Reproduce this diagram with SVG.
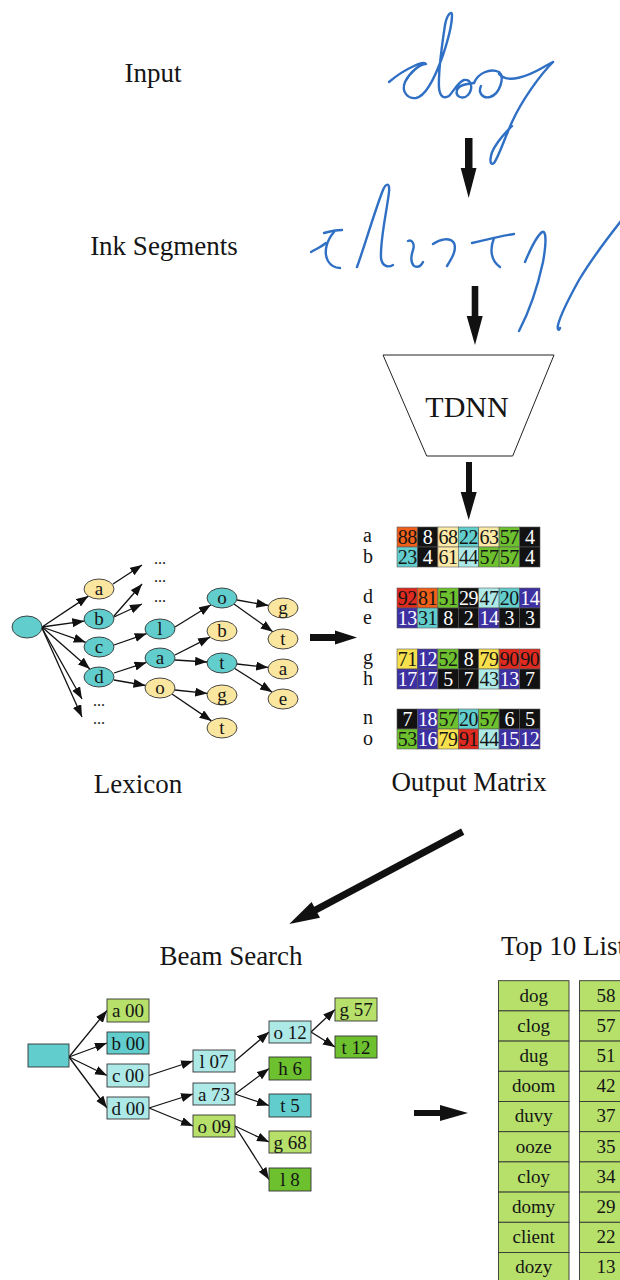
<svg xmlns="http://www.w3.org/2000/svg" width="620" height="1280" viewBox="0 0 620 1280">
  <style>
    text { font-family: "Liberation Serif", "Times New Roman", serif; fill: #151515; }
    .lbl { font-size: 27px; }
    .ntx { font-size: 19px; text-anchor: middle; }
    .mtx { font-size: 20px; text-anchor: middle; letter-spacing: -0.5px; }
    .rl { font-size: 20px; }
    .dots { font-size: 16px; text-anchor: middle; fill: #222; }
    .w { fill: #ffffff; }
    .ink { fill: none; stroke: #2f6fc4; stroke-width: 2.4; stroke-linecap: round; stroke-linejoin: round; }
    .big { fill: #111; }
    .edge { fill: none; stroke: #111; stroke-width: 1.3; marker-end: url(#ah); }
    .ell { stroke: #333; stroke-width: 0.9; }
    .box { stroke: #333; stroke-width: 0.9; }
    .cell { stroke: #5a5a5a; stroke-width: 0.6; }
    .cy { fill: #62cdcd; }
    .ye { fill: #fbe6a0; }
    .lc { fill: #ade9e7; }
    .lg { fill: #b6e06a; }
    .gr { fill: #6dc02e; }
    .k { fill: #121212; }
    .or { fill: #ef5f1a; }
    .rd { fill: #df2a20; }
    .yl { fill: #f6e04c; }
    .ly { fill: #fde9a6; }
    .bl { fill: #3c30a2; }
  </style>
  <defs>
    <marker id="ah" markerUnits="userSpaceOnUse" markerWidth="13" markerHeight="10" refX="12" refY="4.5" orient="auto">
      <path d="M0,0 L12,4.5 L0,9 z" fill="#111"/>
    </marker>
  </defs>

  <rect width="620" height="1280" fill="#ffffff"/>

  <!-- stage captions -->
  <g id="captions">
    <text class="lbl" x="153" y="82" text-anchor="middle">Input</text>
    <text class="lbl" x="164" y="255" text-anchor="middle">Ink Segments</text>
    <text class="lbl" x="138" y="793" text-anchor="middle">Lexicon</text>
    <text class="lbl" x="469" y="791" text-anchor="middle">Output Matrix</text>
    <text class="lbl" x="231" y="965" text-anchor="middle">Beam Search</text>
    <text class="lbl" x="501" y="955">Top 10 List</text>
  </g>

  <!-- handwritten word -->
  <g id="input-ink">
    <path class="ink" d="M389,82 C396,76 405,70 414,66 C420,63 425,62 426,64 C420,64 410,72 405,82 C401,92 408,99 416,98 C426,96 436,75 443,55 C448,40 452,25 452,15 C452,10 447,14 445,25 C442,45 438,70 439,88 C440,97 444,99 449,96 C453,92 458,82 464,80 C471,79 474,88 468,95 C463,100 455,97 457,90 C459,85 466,84 474,83"/>
    <path class="ink" d="M474,83 C478,73 490,68 499,72 C505,77 500,94 490,97 C482,99 478,92 481,86"/>
    <path class="ink" d="M499,74 C508,84 528,76 542,68 C547,65 551,63 553,62"/>
    <path class="ink" d="M553,62 C540,75 522,100 512,122 C504,140 498,158 494,163 C489,167 489,155 496,145 C501,137 507,131 512,126"/>
  </g>

  <!-- segmented strokes -->
  <g id="ink-segments">
    <path class="ink" d="M311,252 C316,249 321,247 326,243"/>
    <path class="ink" d="M324,233 C331,231 337,230 342,230"/>
    <path class="ink" d="M334,232 C327,240 323,252 328,261 C331,266 336,268 340,268"/>
    <path class="ink" d="M357,267 C365,245 375,210 383,190 C386,183 390,182 389,192 C387,210 380,240 381,258 C382,266 388,268 393,265"/>
    <path class="ink" d="M408,241 C412,239 415,244 413,250 C411,256 410,262 414,266 C418,268 421,266 423,262"/>
    <path class="ink" d="M433,244 C440,239 450,237 454,243 C457,250 452,258 447,266"/>
    <path class="ink" d="M472,243 C485,240 500,236 514,234"/>
    <path class="ink" d="M494,238 C490,248 490,260 500,267"/>
    <path class="ink" d="M525,262 C530,250 537,236 542,232 C547,230 546,245 543,262 C538,285 530,310 519,331"/>
    <path class="ink" d="M621,221 C606,240 591,260 579,280 C569,298 561,313 558,325 C557,330 559,331 560,328"/>
  </g>

  <!-- network block -->
  <g id="tdnn">
    <polygon points="383,355 554,355 512.7,456 426.7,456" fill="#fff" stroke="#222" stroke-width="1"/>
    <text x="467" y="417" text-anchor="middle" font-size="30">TDNN</text>
  </g>

  <!-- lexicon tree -->
  <g id="lexicon">
    <g id="lex-edges">
      <path class="edge" d="M42,627 L88.4,596.1"/>
      <path class="edge" d="M42,627 L84.3,621.1"/>
      <path class="edge" d="M42,627 L85.7,642.3"/>
      <path class="edge" d="M42,627 L89.9,669"/>
      <path class="edge" d="M42,628 L82,699"/>
      <path class="edge" d="M42,628 L82,717"/>
      <path class="edge" d="M113,584 L142,565"/>
      <path class="edge" d="M114,616 L142,584"/>
      <path class="edge" d="M114,617 L142,604"/>
      <path class="edge" d="M114,645 L146.7,633.6"/>
      <path class="edge" d="M114,673 L146.5,662.4"/>
      <path class="edge" d="M114,680 L145.5,685.5"/>
      <path class="edge" d="M175,627 L211,604.8"/>
      <path class="edge" d="M175,655 L210.1,637.1"/>
      <path class="edge" d="M175,660 L207.1,662"/>
      <path class="edge" d="M175,690 L207.2,693.4"/>
      <path class="edge" d="M172,694 L211.5,720.9"/>
      <path class="edge" d="M237,600 L268.5,605.5"/>
      <path class="edge" d="M234,604 L272.8,631.7"/>
      <path class="edge" d="M237,664 L268.2,667.4"/>
      <path class="edge" d="M234,668 L272.1,692.1"/>
    </g>
    <g id="lex-root"><ellipse class="ell cy" cx="27" cy="627" rx="15" ry="11"/></g>
    <g id="lex-a"><ellipse class="ell ye" cx="99" cy="589" rx="15" ry="10"/><text class="ntx" x="99" y="595">a</text></g>
    <g id="lex-b"><ellipse class="ell cy" cx="99" cy="619" rx="15" ry="10"/><text class="ntx" x="99" y="625">b</text></g>
    <g id="lex-c"><ellipse class="ell cy" cx="99" cy="647" rx="15" ry="10"/><text class="ntx" x="99" y="653">c</text></g>
    <g id="lex-d"><ellipse class="ell cy" cx="99" cy="677" rx="15" ry="10"/><text class="ntx" x="99" y="683">d</text></g>
    <g id="lex-l"><ellipse class="ell cy" cx="160" cy="629" rx="15" ry="10"/><text class="ntx" x="160" y="635">l</text></g>
    <g id="lex-da"><ellipse class="ell cy" cx="160" cy="658" rx="15" ry="10"/><text class="ntx" x="160" y="664">a</text></g>
    <g id="lex-do"><ellipse class="ell ye" cx="160" cy="688" rx="15" ry="10"/><text class="ntx" x="160" y="694">o</text></g>
    <g id="lex-clo"><ellipse class="ell cy" cx="222" cy="598" rx="15" ry="10"/><text class="ntx" x="222" y="604">o</text></g>
    <g id="lex-dab"><ellipse class="ell ye" cx="222" cy="631" rx="15" ry="10"/><text class="ntx" x="222" y="637">b</text></g>
    <g id="lex-dat"><ellipse class="ell cy" cx="222" cy="663" rx="15" ry="10"/><text class="ntx" x="222" y="669">t</text></g>
    <g id="lex-dog"><ellipse class="ell ye" cx="222" cy="695" rx="15" ry="10"/><text class="ntx" x="222" y="701">g</text></g>
    <g id="lex-dot"><ellipse class="ell ye" cx="222" cy="728" rx="15" ry="10"/><text class="ntx" x="222" y="734">t</text></g>
    <g id="lex-clog"><ellipse class="ell ye" cx="283" cy="608" rx="15" ry="10"/><text class="ntx" x="283" y="614">g</text></g>
    <g id="lex-clot"><ellipse class="ell ye" cx="283" cy="639" rx="15" ry="10"/><text class="ntx" x="283" y="645">t</text></g>
    <g id="lex-data"><ellipse class="ell ye" cx="283" cy="669" rx="15" ry="10"/><text class="ntx" x="283" y="675">a</text></g>
    <g id="lex-date"><ellipse class="ell ye" cx="283" cy="699" rx="15" ry="10"/><text class="ntx" x="283" y="705">e</text></g>
    <g id="lex-more">
      <text class="dots" x="160" y="564">...</text>
      <text class="dots" x="160" y="582">...</text>
      <text class="dots" x="160" y="602">...</text>
      <text class="dots" x="99" y="706">...</text>
      <text class="dots" x="99" y="724">...</text>
    </g>
  </g>

  <!-- output matrix: 8 letter rows x 7 frames -->
  <g id="output-matrix">
    <g id="rows-ab">
      <text class="rl" x="363" y="542">a</text>
      <text class="rl" x="363" y="563">b</text>
      <rect class="cell or" x="397" y="527" width="20.4" height="20"/>
      <rect class="cell k" x="417.4" y="527" width="20.4" height="20"/>
      <rect class="cell ly" x="437.9" y="527" width="20.4" height="20"/>
      <rect class="cell cy" x="458.3" y="527" width="20.4" height="20"/>
      <rect class="cell ly" x="478.7" y="527" width="20.4" height="20"/>
      <rect class="cell gr" x="499.1" y="527" width="20.4" height="20"/>
      <rect class="cell k" x="519.6" y="527" width="20.4" height="20"/>
      <rect class="cell cy" x="397" y="547" width="20.4" height="20"/>
      <rect class="cell k" x="417.4" y="547" width="20.4" height="20"/>
      <rect class="cell ly" x="437.9" y="547" width="20.4" height="20"/>
      <rect class="cell lc" x="458.3" y="547" width="20.4" height="20"/>
      <rect class="cell gr" x="478.7" y="547" width="20.4" height="20"/>
      <rect class="cell gr" x="499.1" y="547" width="20.4" height="20"/>
      <rect class="cell k" x="519.6" y="547" width="20.4" height="20"/>
      <text class="mtx" x="407.2" y="544">88</text>
      <text class="mtx w" x="427.6" y="544">8</text>
      <text class="mtx" x="448.1" y="544">68</text>
      <text class="mtx" x="468.5" y="544">22</text>
      <text class="mtx" x="488.9" y="544">63</text>
      <text class="mtx" x="509.3" y="544">57</text>
      <text class="mtx w" x="529.8" y="544">4</text>
      <text class="mtx" x="407.2" y="564">23</text>
      <text class="mtx w" x="427.6" y="564">4</text>
      <text class="mtx" x="448.1" y="564">61</text>
      <text class="mtx" x="468.5" y="564">44</text>
      <text class="mtx" x="488.9" y="564">57</text>
      <text class="mtx" x="509.3" y="564">57</text>
      <text class="mtx w" x="529.8" y="564">4</text>
    </g>
    <g id="rows-de">
      <text class="rl" x="363" y="603">d</text>
      <text class="rl" x="363" y="624">e</text>
      <rect class="cell rd" x="397" y="588" width="20.4" height="20"/>
      <rect class="cell or" x="417.4" y="588" width="20.4" height="20"/>
      <rect class="cell gr" x="437.9" y="588" width="20.4" height="20"/>
      <rect class="cell k" x="458.3" y="588" width="20.4" height="20"/>
      <rect class="cell lc" x="478.7" y="588" width="20.4" height="20"/>
      <rect class="cell cy" x="499.1" y="588" width="20.4" height="20"/>
      <rect class="cell bl" x="519.6" y="588" width="20.4" height="20"/>
      <rect class="cell bl" x="397" y="608" width="20.4" height="20"/>
      <rect class="cell cy" x="417.4" y="608" width="20.4" height="20"/>
      <rect class="cell k" x="437.9" y="608" width="20.4" height="20"/>
      <rect class="cell k" x="458.3" y="608" width="20.4" height="20"/>
      <rect class="cell bl" x="478.7" y="608" width="20.4" height="20"/>
      <rect class="cell k" x="499.1" y="608" width="20.4" height="20"/>
      <rect class="cell k" x="519.6" y="608" width="20.4" height="20"/>
      <text class="mtx" x="407.2" y="605">92</text>
      <text class="mtx" x="427.6" y="605">81</text>
      <text class="mtx" x="448.1" y="605">51</text>
      <text class="mtx w" x="468.5" y="605">29</text>
      <text class="mtx" x="488.9" y="605">47</text>
      <text class="mtx" x="509.3" y="605">20</text>
      <text class="mtx w" x="529.8" y="605">14</text>
      <text class="mtx w" x="407.2" y="625">13</text>
      <text class="mtx" x="427.6" y="625">31</text>
      <text class="mtx w" x="448.1" y="625">8</text>
      <text class="mtx w" x="468.5" y="625">2</text>
      <text class="mtx w" x="488.9" y="625">14</text>
      <text class="mtx w" x="509.3" y="625">3</text>
      <text class="mtx w" x="529.8" y="625">3</text>
    </g>
    <g id="rows-gh">
      <text class="rl" x="363" y="664">g</text>
      <text class="rl" x="363" y="685">h</text>
      <rect class="cell yl" x="397" y="649" width="20.4" height="20"/>
      <rect class="cell bl" x="417.4" y="649" width="20.4" height="20"/>
      <rect class="cell gr" x="437.9" y="649" width="20.4" height="20"/>
      <rect class="cell k" x="458.3" y="649" width="20.4" height="20"/>
      <rect class="cell yl" x="478.7" y="649" width="20.4" height="20"/>
      <rect class="cell rd" x="499.1" y="649" width="20.4" height="20"/>
      <rect class="cell rd" x="519.6" y="649" width="20.4" height="20"/>
      <rect class="cell bl" x="397" y="669" width="20.4" height="20"/>
      <rect class="cell bl" x="417.4" y="669" width="20.4" height="20"/>
      <rect class="cell k" x="437.9" y="669" width="20.4" height="20"/>
      <rect class="cell k" x="458.3" y="669" width="20.4" height="20"/>
      <rect class="cell lc" x="478.7" y="669" width="20.4" height="20"/>
      <rect class="cell bl" x="499.1" y="669" width="20.4" height="20"/>
      <rect class="cell k" x="519.6" y="669" width="20.4" height="20"/>
      <text class="mtx" x="407.2" y="666">71</text>
      <text class="mtx w" x="427.6" y="666">12</text>
      <text class="mtx" x="448.1" y="666">52</text>
      <text class="mtx w" x="468.5" y="666">8</text>
      <text class="mtx" x="488.9" y="666">79</text>
      <text class="mtx" x="509.3" y="666">90</text>
      <text class="mtx" x="529.8" y="666">90</text>
      <text class="mtx w" x="407.2" y="686">17</text>
      <text class="mtx w" x="427.6" y="686">17</text>
      <text class="mtx w" x="448.1" y="686">5</text>
      <text class="mtx w" x="468.5" y="686">7</text>
      <text class="mtx" x="488.9" y="686">43</text>
      <text class="mtx w" x="509.3" y="686">13</text>
      <text class="mtx w" x="529.8" y="686">7</text>
    </g>
    <g id="rows-no">
      <text class="rl" x="363" y="724">n</text>
      <text class="rl" x="363" y="745">o</text>
      <rect class="cell k" x="397" y="709" width="20.4" height="20"/>
      <rect class="cell bl" x="417.4" y="709" width="20.4" height="20"/>
      <rect class="cell gr" x="437.9" y="709" width="20.4" height="20"/>
      <rect class="cell cy" x="458.3" y="709" width="20.4" height="20"/>
      <rect class="cell gr" x="478.7" y="709" width="20.4" height="20"/>
      <rect class="cell k" x="499.1" y="709" width="20.4" height="20"/>
      <rect class="cell k" x="519.6" y="709" width="20.4" height="20"/>
      <rect class="cell gr" x="397" y="729" width="20.4" height="20"/>
      <rect class="cell bl" x="417.4" y="729" width="20.4" height="20"/>
      <rect class="cell yl" x="437.9" y="729" width="20.4" height="20"/>
      <rect class="cell rd" x="458.3" y="729" width="20.4" height="20"/>
      <rect class="cell lc" x="478.7" y="729" width="20.4" height="20"/>
      <rect class="cell bl" x="499.1" y="729" width="20.4" height="20"/>
      <rect class="cell bl" x="519.6" y="729" width="20.4" height="20"/>
      <text class="mtx w" x="407.2" y="726">7</text>
      <text class="mtx w" x="427.6" y="726">18</text>
      <text class="mtx" x="448.1" y="726">57</text>
      <text class="mtx" x="468.5" y="726">20</text>
      <text class="mtx" x="488.9" y="726">57</text>
      <text class="mtx w" x="509.3" y="726">6</text>
      <text class="mtx w" x="529.8" y="726">5</text>
      <text class="mtx" x="407.2" y="746">53</text>
      <text class="mtx w" x="427.6" y="746">16</text>
      <text class="mtx" x="448.1" y="746">79</text>
      <text class="mtx" x="468.5" y="746">91</text>
      <text class="mtx" x="488.9" y="746">44</text>
      <text class="mtx w" x="509.3" y="746">15</text>
      <text class="mtx w" x="529.8" y="746">12</text>
    </g>
  </g>

  <!-- beam search tree -->
  <g id="beam">
    <g id="beam-edges">
      <path class="edge" d="M69,1057 L107,1010.5"/>
      <path class="edge" d="M69,1057 L107,1043"/>
      <path class="edge" d="M69,1057 L107,1075.5"/>
      <path class="edge" d="M69,1057 L107,1108"/>
      <path class="edge" d="M149,1075.5 L193,1061"/>
      <path class="edge" d="M149,1108 L193,1094"/>
      <path class="edge" d="M149,1108 L193,1126"/>
      <path class="edge" d="M235,1061 L269,1032"/>
      <path class="edge" d="M235,1094 L269,1068.5"/>
      <path class="edge" d="M235,1094 L269,1105.5"/>
      <path class="edge" d="M235,1126 L269,1142"/>
      <path class="edge" d="M235,1126 L269,1179.5"/>
      <path class="edge" d="M311,1032 L335,1009.5"/>
      <path class="edge" d="M311,1032 L335,1047"/>
    </g>
    <g id="beam-root"><rect class="box cy" x="28" y="1044" width="41" height="23"/></g>
    <g id="beam-a"><rect class="box lg" x="107" y="999" width="42" height="23"/><text class="ntx" x="128" y="1017">a 00</text></g>
    <g id="beam-b"><rect class="box cy" x="107" y="1032" width="42" height="22"/><text class="ntx" x="128" y="1049.5">b 00</text></g>
    <g id="beam-c"><rect class="box lc" x="107" y="1064" width="42" height="23"/><text class="ntx" x="128" y="1082">c 00</text></g>
    <g id="beam-d"><rect class="box lc" x="107" y="1097" width="42" height="22"/><text class="ntx" x="128" y="1114.5">d 00</text></g>
    <g id="beam-cl"><rect class="box lc" x="193" y="1050" width="42" height="22"/><text class="ntx" x="214" y="1067.5">l 07</text></g>
    <g id="beam-da"><rect class="box lc" x="193" y="1083" width="42" height="22"/><text class="ntx" x="214" y="1100.5">a 73</text></g>
    <g id="beam-do"><rect class="box lg" x="193" y="1115" width="42" height="22"/><text class="ntx" x="214" y="1132.5">o 09</text></g>
    <g id="beam-clo"><rect class="box lc" x="269" y="1021" width="42" height="22"/><text class="ntx" x="290" y="1038.5">o 12</text></g>
    <g id="beam-dah"><rect class="box gr" x="269" y="1057" width="42" height="23"/><text class="ntx" x="290" y="1075">h 6</text></g>
    <g id="beam-dat"><rect class="box cy" x="269" y="1094" width="42" height="23"/><text class="ntx" x="290" y="1112">t 5</text></g>
    <g id="beam-dog"><rect class="box lg" x="269" y="1131" width="42" height="22"/><text class="ntx" x="290" y="1148.5">g 68</text></g>
    <g id="beam-dol"><rect class="box gr" x="269" y="1168" width="42" height="23"/><text class="ntx" x="290" y="1186">l 8</text></g>
    <g id="beam-clog"><rect class="box lg" x="335" y="998" width="42" height="23"/><text class="ntx" x="356" y="1016">g 57</text></g>
    <g id="beam-clot"><rect class="box gr" x="335" y="1036" width="42" height="22"/><text class="ntx" x="356" y="1053.5">t 12</text></g>
  </g>

  <!-- ranked result list -->
  <g id="top-list">
    <g id="words">
      <rect class="box lg" x="498.5" y="980.7" width="70.5" height="30.2"/>
      <rect class="box lg" x="498.5" y="1010.9" width="70.5" height="30.2"/>
      <rect class="box lg" x="498.5" y="1041.1" width="70.5" height="30.2"/>
      <rect class="box lg" x="498.5" y="1071.3" width="70.5" height="30.2"/>
      <rect class="box lg" x="498.5" y="1101.5" width="70.5" height="30.2"/>
      <rect class="box lg" x="498.5" y="1131.7" width="70.5" height="30.2"/>
      <rect class="box lg" x="498.5" y="1161.9" width="70.5" height="30.2"/>
      <rect class="box lg" x="498.5" y="1192.1" width="70.5" height="30.2"/>
      <rect class="box lg" x="498.5" y="1222.3" width="70.5" height="30.2"/>
      <rect class="box lg" x="498.5" y="1252.5" width="70.5" height="30.2"/>
      <text class="ntx" x="533.7" y="1001.5">dog</text>
      <text class="ntx" x="533.7" y="1031.7">clog</text>
      <text class="ntx" x="533.7" y="1061.9">dug</text>
      <text class="ntx" x="533.7" y="1092.1">doom</text>
      <text class="ntx" x="533.7" y="1122.3">duvy</text>
      <text class="ntx" x="533.7" y="1152.5">ooze</text>
      <text class="ntx" x="533.7" y="1182.7">cloy</text>
      <text class="ntx" x="533.7" y="1212.9">domy</text>
      <text class="ntx" x="533.7" y="1243.1">client</text>
      <text class="ntx" x="533.7" y="1273.3">dozy</text>
    </g>
    <g id="scores">
      <rect class="box lg" x="579.5" y="980.7" width="53" height="30.2"/>
      <rect class="box lg" x="579.5" y="1010.9" width="53" height="30.2"/>
      <rect class="box lg" x="579.5" y="1041.1" width="53" height="30.2"/>
      <rect class="box lg" x="579.5" y="1071.3" width="53" height="30.2"/>
      <rect class="box lg" x="579.5" y="1101.5" width="53" height="30.2"/>
      <rect class="box lg" x="579.5" y="1131.7" width="53" height="30.2"/>
      <rect class="box lg" x="579.5" y="1161.9" width="53" height="30.2"/>
      <rect class="box lg" x="579.5" y="1192.1" width="53" height="30.2"/>
      <rect class="box lg" x="579.5" y="1222.3" width="53" height="30.2"/>
      <rect class="box lg" x="579.5" y="1252.5" width="53" height="30.2"/>
      <text class="ntx" x="606" y="1001.5">58</text>
      <text class="ntx" x="606" y="1031.7">57</text>
      <text class="ntx" x="606" y="1061.9">51</text>
      <text class="ntx" x="606" y="1092.1">42</text>
      <text class="ntx" x="606" y="1122.3">37</text>
      <text class="ntx" x="606" y="1152.5">35</text>
      <text class="ntx" x="606" y="1182.7">34</text>
      <text class="ntx" x="606" y="1212.9">29</text>
      <text class="ntx" x="606" y="1243.1">22</text>
      <text class="ntx" x="606" y="1273.3">13</text>
    </g>
  </g>

  <!-- heavy flow arrows between stages -->
  <g id="flow-arrows">
    <polygon class="big" points="465,138 472.5,138 472.5,168 476.5,168 468.7,198 460.7,168 465,168"/>
    <polygon class="big" points="471.7,286 478.3,286 478.3,316 482.7,316 475,345 466.7,316 471.7,316"/>
    <polygon class="big" points="466,462 472,462 472,492 476.7,492 468.7,520 460.7,492 466,492"/>
    <polygon class="big" points="310,634 335,634 335,630.5 357,637.5 335,644.5 335,641 310,641"/>
    <polygon class="big" points="461.1,828.6 314.2,906.8 311.6,902 289.3,924 320,917.8 317.4,913 464.3,834.8"/>
    <polygon class="big" points="414,1110 440,1110 440,1105 468,1113 440,1121 440,1116 414,1116"/>
  </g>
</svg>
